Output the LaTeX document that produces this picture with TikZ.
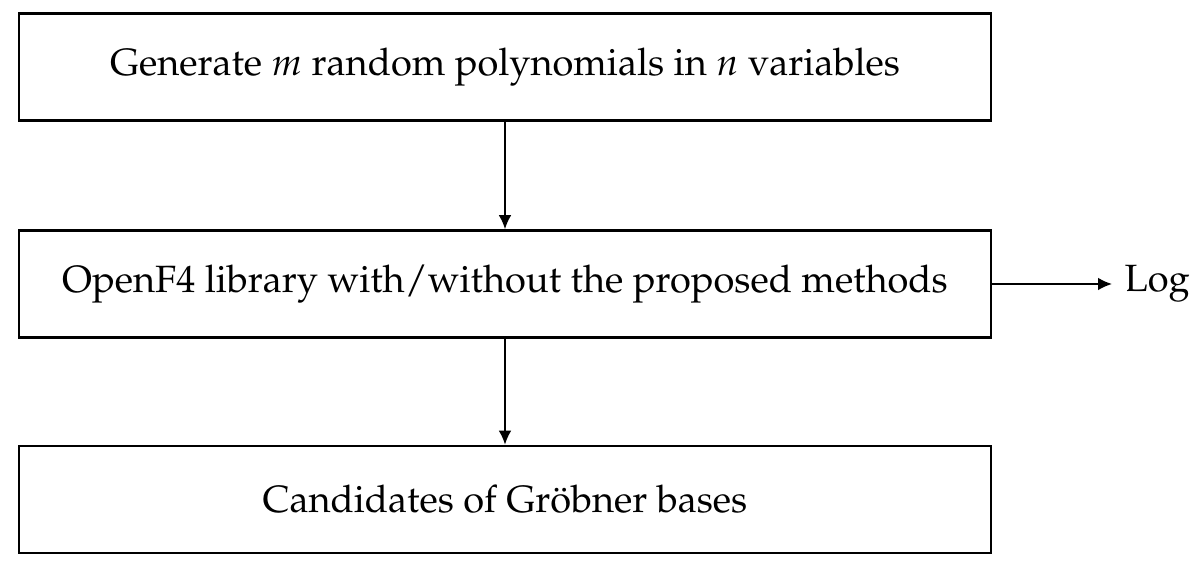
\documentclass[tikz,border=0pt]{standalone}
\usepackage[T1]{fontenc}
\usepackage{mathpazo}
\usetikzlibrary{arrows.meta}
\begin{document}
\begin{tikzpicture}[x=0.3pt,y=-0.3pt,
  stagebox/.style={draw,line width=0.8pt,minimum width=291.6pt,minimum height=32.1pt,inner sep=0pt,font=\fontsize{11.4}{13}\selectfont},
  flow/.style={-{Latex[length=4.2pt,width=3.8pt]},line width=0.5pt},
  lbl/.style={font=\fontsize{11.4}{13}\selectfont,inner sep=0pt}]
\useasboundingbox (0,0) rectangle (1200,570);
\node[stagebox] (gen) at (505,67) {Generate $m$ random polynomials in $n$ variables};
\node[stagebox] (lib) at (505,284) {OpenF4 library with/without the proposed methods};
\node[stagebox] (cand) at (505,499.5) {Candidates of Gr\"obner bases};
\coordinate (logend) at (1112,284);
\node[lbl,anchor=west] (log) at (1124,284) {Log};
\draw[flow] (gen) -- (lib);
\draw[flow] (lib) -- (cand);
\draw[flow] (lib.east) -- (logend);
\end{tikzpicture}
\end{document}
